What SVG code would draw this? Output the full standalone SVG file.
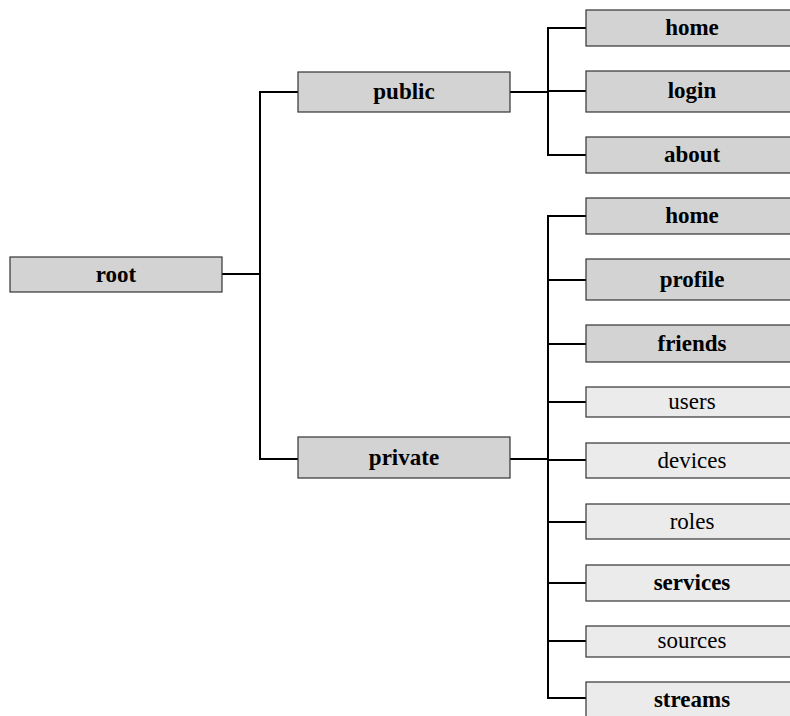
<svg xmlns="http://www.w3.org/2000/svg" width="790" height="716" viewBox="0 0 790 716">
<style>
.box{stroke:#333;stroke-width:1.2}
.dk{fill:#d3d3d3}
.lt{fill:#ebebeb}
text{font-family:'Liberation Serif','Times New Roman','DejaVu Serif',Times,serif;font-size:23px;fill:#000;text-anchor:middle}
.b{font-weight:bold}
.c{fill:none;stroke:#000;stroke-width:2}
</style>
<rect width="790" height="716" fill="#fff"/>
<g id="connectors">
<path class="c" d="M222,274 H260 M298,92 H260 V459 H298"/>
<path class="c" d="M510,92 H548 M586,28 H548 V155 H586 M548,91 H586"/>
<path class="c" d="M510,459 H548 M586,216 H548 V698 H586 M548,280 H586 M548,344 H586 M548,402 H586 M548,460 H586 M548,522 H586 M548,583 H586 M548,641 H586"/>
</g>
<g id="root"><rect class="box dk" x="10" y="257" width="212" height="35"/><text class="b" x="116" y="282">root</text></g>
<g id="public"><rect class="box dk" x="298" y="72" width="212" height="40"/><text class="b" x="404" y="99">public</text></g>
<g id="private"><rect class="box dk" x="298" y="437" width="212" height="41"/><text class="b" x="404" y="465">private</text></g>
<g id="public-home"><rect class="box dk" x="586" y="10" width="212" height="36"/><text class="b" x="692" y="35">home</text></g>
<g id="login"><rect class="box dk" x="586" y="71" width="212" height="41"/><text class="b" x="692" y="98">login</text></g>
<g id="about"><rect class="box dk" x="586" y="137" width="212" height="36"/><text class="b" x="692" y="162">about</text></g>
<g id="private-home"><rect class="box dk" x="586" y="198" width="212" height="36"/><text class="b" x="692" y="223">home</text></g>
<g id="profile"><rect class="box dk" x="586" y="259" width="212" height="41"/><text class="b" x="692" y="287">profile</text></g>
<g id="friends"><rect class="box dk" x="586" y="325" width="212" height="37"/><text class="b" x="692" y="351">friends</text></g>
<g id="users"><rect class="box lt" x="586" y="387" width="212" height="30"/><text x="692" y="409">users</text></g>
<g id="devices"><rect class="box lt" x="586" y="443" width="212" height="35"/><text x="692" y="468">devices</text></g>
<g id="roles"><rect class="box lt" x="586" y="504" width="212" height="35"/><text x="692" y="529">roles</text></g>
<g id="services"><rect class="box lt" x="586" y="565" width="212" height="36"/><text class="b" x="692" y="590">services</text></g>
<g id="sources"><rect class="box lt" x="586" y="626" width="212" height="31"/><text x="692" y="648">sources</text></g>
<g id="streams"><rect class="box lt" x="586" y="682" width="212" height="40"/><text class="b" x="692" y="707">streams</text></g>
</svg>
